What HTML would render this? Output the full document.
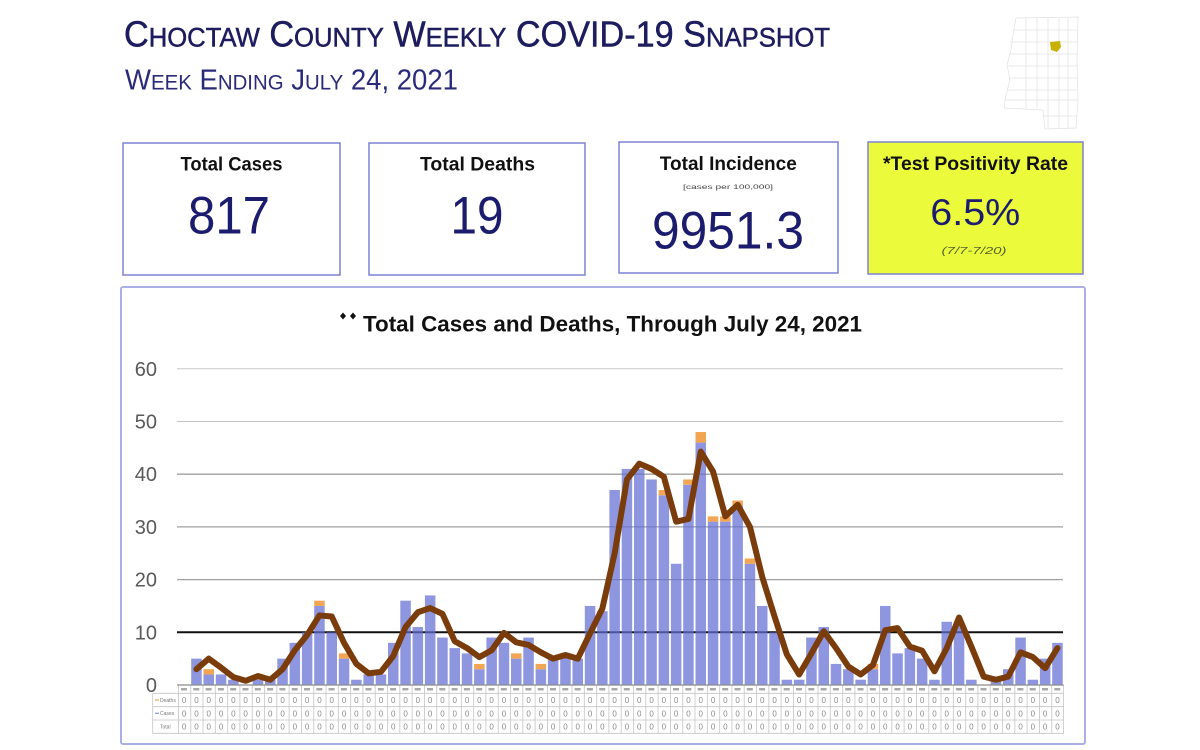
<!DOCTYPE html>
<html><head><meta charset="utf-8"><style>
html,body{margin:0;padding:0;background:#fff;width:1200px;height:750px;overflow:hidden}
svg{display:block}
</style></head><body>
<svg width="1200" height="750" viewBox="0 0 1200 750" font-family="Liberation Sans, sans-serif">
<defs>
<pattern id="vl" patternUnits="userSpaceOnUse" x="178" y="0" width="12.3" height="10"><rect x="0" y="0" width="0.8" height="10" fill="#c4c4c4"/></pattern>
</defs>
<rect width="1200" height="750" fill="#fff"/>

<!-- Title -->
<text x="124" y="46.7" textLength="706" lengthAdjust="spacingAndGlyphs" fill="#1c1c5e" stroke="#1c1c5e" stroke-width="0.5" font-size="36">C<tspan font-size="27">HOCTAW</tspan> C<tspan font-size="27">OUNTY</tspan> W<tspan font-size="27">EEKLY</tspan> COVID-19 S<tspan font-size="27">NAPSHOT</tspan></text>
<text x="125" y="89.3" textLength="333" lengthAdjust="spacingAndGlyphs" fill="#2a2a7a" font-size="29">W<tspan font-size="21.5">EEK</tspan> E<tspan font-size="21.5">NDING</tspan> J<tspan font-size="21.5">ULY</tspan> 24, 2021</text>

<!-- Map -->
<g stroke="#e2e2e2" stroke-width="0.7" fill="#fff">
<polygon points="1016,18 1078,17 1077,60 1078,100 1076,128 1045,129 1043,110 1004,108 1006,95 1010,80 1007,65 1011,50 1013,35"/>
<path d="M1014,30 H1077 M1010,42 H1077 M1009,54 H1077 M1008,66 H1077 M1009,78 H1077 M1007,90 H1077 M1005,100 H1077 M1044,116 H1077 M1026,18 V108 M1037,18 V108 M1048,18 V128 M1059,18 V128 M1068,18 V128" fill="none"/>
</g>
<polygon points="1050,42 1060,41 1061,47 1057,52 1051,50" fill="#c8b000"/>

<!-- Stat boxes -->
<rect x="123" y="143" width="217" height="132" fill="#fff" stroke="#7d82d2" stroke-width="1.5"/>
<rect x="369" y="143" width="216" height="132" fill="#fff" stroke="#7d82d2" stroke-width="1.5"/>
<rect x="619" y="142" width="219" height="131" fill="#fff" stroke="#7d82d2" stroke-width="1.5"/>
<rect x="868" y="142" width="215" height="132" fill="#ebfb3c" stroke="#7d82d2" stroke-width="1.5"/>

<g font-weight="bold" font-size="19" fill="#111" text-anchor="middle">
<text x="231.5" y="170.5" textLength="102" lengthAdjust="spacingAndGlyphs">Total Cases</text>
<text x="477.5" y="170.5" textLength="115" lengthAdjust="spacingAndGlyphs">Total Deaths</text>
<text x="728.3" y="170" textLength="137" lengthAdjust="spacingAndGlyphs">Total Incidence</text>
<text x="975.5" y="170" textLength="185" lengthAdjust="spacingAndGlyphs">*Test Positivity Rate</text>
</g>
<text x="728" y="189" font-size="6" fill="#444" text-anchor="middle" textLength="90" lengthAdjust="spacingAndGlyphs">[cases per 100,000]</text>
<g fill="#1c1c6e" text-anchor="middle">
<text x="229" y="233.3" font-size="53" textLength="82" lengthAdjust="spacingAndGlyphs">817</text>
<text x="477" y="233.3" font-size="53" textLength="53" lengthAdjust="spacingAndGlyphs">19</text>
<text x="728" y="248.3" font-size="53" textLength="152" lengthAdjust="spacingAndGlyphs">9951.3</text>
<text x="975.3" y="225" font-size="37" textLength="90" lengthAdjust="spacingAndGlyphs">6.5%</text>
</g>
<text x="974" y="254" font-size="10" font-style="italic" fill="#55602a" text-anchor="middle" textLength="65" lengthAdjust="spacingAndGlyphs">(7/7-7/20)</text>

<!-- Chart panel -->
<rect x="121" y="287" width="964" height="457" rx="2" fill="#fff" stroke="#aab0e6" stroke-width="2"/>

<polygon points="343,312.5 346,316 343,319.5 340,316" fill="#111"/>
<polygon points="353,312.5 356,316 353,319.5 350,316" fill="#111"/>
<text x="363" y="331.5" font-size="22" font-weight="bold" fill="#111" textLength="499" lengthAdjust="spacingAndGlyphs">Total Cases and Deaths, Through July 24, 2021</text>

<!-- Y labels -->
<g font-size="20" fill="#595959" text-anchor="end">
<text x="157" y="375.8">60</text>
<text x="157" y="428.5">50</text>
<text x="157" y="481.2">40</text>
<text x="157" y="533.9">30</text>
<text x="157" y="586.6">20</text>
<text x="157" y="639.3">10</text>
<text x="157" y="692">0</text>
</g>

<!-- Gridlines -->
<g fill="none">
<line x1="177" y1="368.8" x2="1063" y2="368.8" stroke="#c8c8c8" stroke-width="1"/>
<line x1="177" y1="421.5" x2="1063" y2="421.5" stroke="#c4c4c4" stroke-width="1"/>
<line x1="177" y1="474.2" x2="1063" y2="474.2" stroke="#a0a0a0" stroke-width="1.3"/>
<line x1="177" y1="526.9" x2="1063" y2="526.9" stroke="#a0a0a0" stroke-width="1.3"/>
<line x1="177" y1="579.6" x2="1063" y2="579.6" stroke="#a0a0a0" stroke-width="1.3"/>
<line x1="177" y1="632.3" x2="1063" y2="632.3" stroke="#111" stroke-width="2"/>
</g>

<!-- Bars (cases) -->
<g transform="translate(0 685) scale(1 -5.27)" fill="#636dd4" fill-opacity="0.72">
<rect x="191.2" y="0" width="10.5" height="5"/>
<rect x="203.5" y="0" width="10.5" height="2"/>
<rect x="215.8" y="0" width="10.5" height="2"/>
<rect x="228.1" y="0" width="10.5" height="1"/>
<rect x="252.7" y="0" width="10.5" height="1"/>
<rect x="265" y="0" width="10.5" height="1"/>
<rect x="277.3" y="0" width="10.5" height="5"/>
<rect x="289.6" y="0" width="10.5" height="8"/>
<rect x="301.9" y="0" width="10.5" height="10"/>
<rect x="314.2" y="0" width="10.5" height="15"/>
<rect x="326.5" y="0" width="10.5" height="10"/>
<rect x="338.8" y="0" width="10.5" height="5"/>
<rect x="351.1" y="0" width="10.5" height="1"/>
<rect x="363.4" y="0" width="10.5" height="2"/>
<rect x="375.7" y="0" width="10.5" height="2"/>
<rect x="388" y="0" width="10.5" height="8"/>
<rect x="400.3" y="0" width="10.5" height="16"/>
<rect x="412.6" y="0" width="10.5" height="11"/>
<rect x="424.9" y="0" width="10.5" height="17"/>
<rect x="437.2" y="0" width="10.5" height="9"/>
<rect x="449.5" y="0" width="10.5" height="7"/>
<rect x="461.8" y="0" width="10.5" height="6"/>
<rect x="474.1" y="0" width="10.5" height="3"/>
<rect x="486.4" y="0" width="10.5" height="9"/>
<rect x="498.7" y="0" width="10.5" height="8"/>
<rect x="511" y="0" width="10.5" height="5"/>
<rect x="523.3" y="0" width="10.5" height="9"/>
<rect x="535.6" y="0" width="10.5" height="3"/>
<rect x="547.9" y="0" width="10.5" height="5"/>
<rect x="560.2" y="0" width="10.5" height="6"/>
<rect x="572.5" y="0" width="10.5" height="5"/>
<rect x="584.8" y="0" width="10.5" height="15"/>
<rect x="597.1" y="0" width="10.5" height="14"/>
<rect x="609.4" y="0" width="10.5" height="37"/>
<rect x="621.7" y="0" width="10.5" height="41"/>
<rect x="634" y="0" width="10.5" height="41"/>
<rect x="646.3" y="0" width="10.5" height="39"/>
<rect x="658.6" y="0" width="10.5" height="36"/>
<rect x="670.9" y="0" width="10.5" height="23"/>
<rect x="683.2" y="0" width="10.5" height="38"/>
<rect x="695.5" y="0" width="10.5" height="46"/>
<rect x="707.8" y="0" width="10.5" height="31"/>
<rect x="720.1" y="0" width="10.5" height="31"/>
<rect x="732.4" y="0" width="10.5" height="34"/>
<rect x="744.7" y="0" width="10.5" height="23"/>
<rect x="757" y="0" width="10.5" height="15"/>
<rect x="769.3" y="0" width="10.5" height="10"/>
<rect x="781.6" y="0" width="10.5" height="1"/>
<rect x="793.9" y="0" width="10.5" height="1"/>
<rect x="806.2" y="0" width="10.5" height="9"/>
<rect x="818.5" y="0" width="10.5" height="11"/>
<rect x="830.8" y="0" width="10.5" height="4"/>
<rect x="843.1" y="0" width="10.5" height="3"/>
<rect x="855.4" y="0" width="10.5" height="1"/>
<rect x="867.7" y="0" width="10.5" height="3"/>
<rect x="880" y="0" width="10.5" height="15"/>
<rect x="892.3" y="0" width="10.5" height="6"/>
<rect x="904.6" y="0" width="10.5" height="7"/>
<rect x="916.9" y="0" width="10.5" height="5"/>
<rect x="929.2" y="0" width="10.5" height="1"/>
<rect x="941.5" y="0" width="10.5" height="12"/>
<rect x="953.8" y="0" width="10.5" height="12"/>
<rect x="966.1" y="0" width="10.5" height="1"/>
<rect x="990.7" y="0" width="10.5" height="1"/>
<rect x="1003" y="0" width="10.5" height="3"/>
<rect x="1015.3" y="0" width="10.5" height="9"/>
<rect x="1027.6" y="0" width="10.5" height="1"/>
<rect x="1039.9" y="0" width="10.5" height="5"/>
<rect x="1052.2" y="0" width="10.5" height="8"/>
</g>

<!-- Deaths (stacked) -->
<g transform="translate(0 685) scale(1 -5.27)" fill="#f2a553">
<rect x="203.5" y="2" width="10.5" height="1"/>
<rect x="314.2" y="15" width="10.5" height="1"/>
<rect x="338.8" y="5" width="10.5" height="1"/>
<rect x="474.1" y="3" width="10.5" height="1"/>
<rect x="511" y="5" width="10.5" height="1"/>
<rect x="535.6" y="3" width="10.5" height="1"/>
<rect x="658.6" y="36" width="10.5" height="1"/>
<rect x="683.2" y="38" width="10.5" height="1"/>
<rect x="695.5" y="46" width="10.5" height="2"/>
<rect x="707.8" y="31" width="10.5" height="1"/>
<rect x="720.1" y="31" width="10.5" height="1"/>
<rect x="732.4" y="34" width="10.5" height="1"/>
<rect x="744.7" y="23" width="10.5" height="1"/>
<rect x="867.7" y="3" width="10.5" height="1"/>
</g>

<!-- Trend line -->
<g transform="translate(0 685) scale(1 -5.27)">
<polyline vector-effect="non-scaling-stroke" fill="none" stroke="#7b3c0b" stroke-width="6" stroke-linejoin="round" stroke-linecap="round" points="196.45,3 208.75,5 221.05,3.3 233.35,1.5 245.65,0.8 257.95,1.7 270.25,1 282.55,3 294.85,6.6 307.15,9.5 319.45,13.2 331.75,13 344.05,8 356.35,4 368.65,2.2 380.95,2.5 393.25,5.5 405.55,11 417.85,13.8 430.15,14.6 442.45,13.5 454.75,8.3 467.05,7 479.35,5.3 491.65,6.6 503.95,9.9 516.25,8.1 528.55,7.6 540.85,6.2 553.15,5 565.45,5.7 577.75,5 590.05,9.8 602.35,14.5 614.65,25 626.95,39 639.25,42 651.55,41 663.85,39.5 676.15,31 688.45,31.5 700.75,44.3 713.05,40.5 725.35,32 737.65,34.2 749.95,30 762.25,20.5 774.55,13 786.85,5.8 799.15,2 811.45,6 823.75,10.2 836.05,7 848.35,3.5 860.65,2 872.95,3.8 885.25,10.4 897.55,10.8 909.85,7.3 922.15,6.5 934.45,2.6 946.75,7 959.05,12.8 971.35,7.3 983.65,1.6 995.95,1 1008.25,1.6 1020.55,6.2 1032.85,5.3 1045.15,3.2 1057.45,7"/>
</g>

<!-- Data table -->
<rect x="178" y="685" width="885.6" height="48.3" fill="url(#vl)"/>
<g stroke="#c4c4c4" stroke-width="0.8" fill="none">
<line x1="152.7" y1="693.3" x2="1063.6" y2="693.3"/>
<line x1="152.7" y1="706.7" x2="1063.6" y2="706.7"/>
<line x1="152.7" y1="720" x2="1063.6" y2="720"/>
<line x1="152.7" y1="733.3" x2="1063.6" y2="733.3"/>
<line x1="152.7" y1="693.3" x2="152.7" y2="733.3"/>
<line x1="1063.6" y1="685" x2="1063.6" y2="733.3"/>
</g>
<line x1="177" y1="685" x2="1063.6" y2="685" stroke="#8c8c8c" stroke-width="1.3"/>
<line x1="181" y1="689.2" x2="1063" y2="689.2" stroke="#aaa" stroke-width="2.5" stroke-dasharray="6 6.3"/>
<g font-size="5" fill="#777">
<line x1="155" y1="700" x2="159" y2="700" stroke="#f2a553" stroke-width="1.2"/>
<text x="160" y="701.8">Deaths</text>
<line x1="155" y1="713.3" x2="159" y2="713.3" stroke="#8d94df" stroke-width="1.2"/>
<text x="160" y="715.1">Cases</text>
<text x="160" y="728.4">Total</text>
</g>
<g font-size="8" fill="#8a8a8a" text-anchor="middle">
<text y="703" x="184.15 196.45 208.75 221.05 233.35 245.65 257.95 270.25 282.55 294.85 307.15 319.45 331.75 344.05 356.35 368.65 380.95 393.25 405.55 417.85 430.15 442.45 454.75 467.05 479.35 491.65 503.95 516.25 528.55 540.85 553.15 565.45 577.75 590.05 602.35 614.65 626.95 639.25 651.55 663.85 676.15 688.45 700.75 713.05 725.35 737.65 749.95 762.25 774.55 786.85 799.15 811.45 823.75 836.05 848.35 860.65 872.95 885.25 897.55 909.85 922.15 934.45 946.75 959.05 971.35 983.65 995.95 1008.25 1020.55 1032.85 1045.15 1057.45">000000000000000000000000000000000000000000000000000000000000000000000000</text>
<text y="716.3" x="184.15 196.45 208.75 221.05 233.35 245.65 257.95 270.25 282.55 294.85 307.15 319.45 331.75 344.05 356.35 368.65 380.95 393.25 405.55 417.85 430.15 442.45 454.75 467.05 479.35 491.65 503.95 516.25 528.55 540.85 553.15 565.45 577.75 590.05 602.35 614.65 626.95 639.25 651.55 663.85 676.15 688.45 700.75 713.05 725.35 737.65 749.95 762.25 774.55 786.85 799.15 811.45 823.75 836.05 848.35 860.65 872.95 885.25 897.55 909.85 922.15 934.45 946.75 959.05 971.35 983.65 995.95 1008.25 1020.55 1032.85 1045.15 1057.45">000000000000000000000000000000000000000000000000000000000000000000000000</text>
<text y="729.7" x="184.15 196.45 208.75 221.05 233.35 245.65 257.95 270.25 282.55 294.85 307.15 319.45 331.75 344.05 356.35 368.65 380.95 393.25 405.55 417.85 430.15 442.45 454.75 467.05 479.35 491.65 503.95 516.25 528.55 540.85 553.15 565.45 577.75 590.05 602.35 614.65 626.95 639.25 651.55 663.85 676.15 688.45 700.75 713.05 725.35 737.65 749.95 762.25 774.55 786.85 799.15 811.45 823.75 836.05 848.35 860.65 872.95 885.25 897.55 909.85 922.15 934.45 946.75 959.05 971.35 983.65 995.95 1008.25 1020.55 1032.85 1045.15 1057.45">000000000000000000000000000000000000000000000000000000000000000000000000</text>
</g>
</svg>
</body></html>
